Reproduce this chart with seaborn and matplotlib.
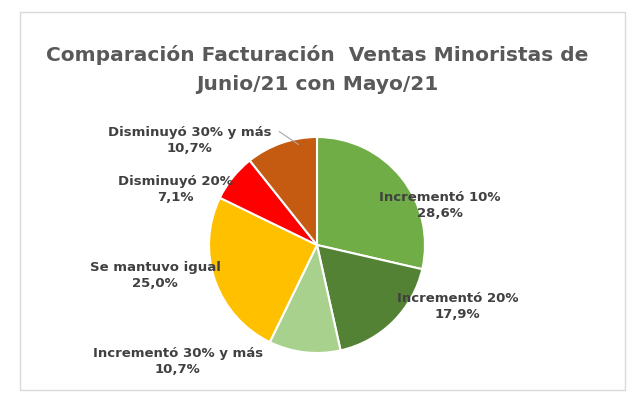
import matplotlib
matplotlib.use("Agg")
import matplotlib.pyplot as plt
import seaborn as sns
from matplotlib.patches import Rectangle

categories = ["Incrementó 10%", "Incrementó 20%", "Incrementó 30% y más",
              "Se mantuvo igual", "Disminuyó 20%", "Disminuyó 30% y más"]
values = [28.6, 17.9, 10.7, 25.0, 7.1, 10.7]
value_labels = ["28,6%", "17,9%", "10,7%", "25,0%", "7,1%", "10,7%"]
colors = ["#70AD47", "#548235", "#A9D18E", "#FFC000", "#FF0000", "#C55A11"]

sns.set_theme(style="white")
palette = sns.color_palette(colors)

fig = plt.figure(figsize=(6.42, 4.17), dpi=100)
fig.patch.set_facecolor("white")
fig.patches.append(Rectangle((20/642, 1-390/417), 605/642, 378/417, transform=fig.transFigure,
                             fill=False, edgecolor="#D9D9D9", linewidth=1))
fig.text(0.494, 1-55/417, "Comparación Facturación  Ventas Minoristas de", ha="center", va="center",
         fontsize=14.5, fontweight="bold", color="#595959")
fig.text(0.494, 1-85/417, "Junio/21 con Mayo/21", ha="center", va="center",
         fontsize=14.5, fontweight="bold", color="#595959")

ax = fig.add_axes([209/642, 64/417, 216/642, 216/417])
ax.pie(values, colors=palette, startangle=90, counterclock=False,
       wedgeprops=dict(edgecolor="white", linewidth=1.5))
ax.set_xlim(-1, 1); ax.set_ylim(-1, 1); ax.set_aspect("equal")

pos = [(1.14, 0.37), (1.30, -0.57), (-1.29, -1.08), (-1.5, -0.28), (-1.31, 0.51), (-1.18, 0.97)]
for c, v, (x, y) in zip(categories, value_labels, pos):
    ax.text(x, y, f"{c}\n{v}", ha="center", va="center", fontsize=9.5, fontweight="bold",
            color="#404040", clip_on=False, linespacing=1.3)
ax.plot([-0.35, -0.17], [1.05, 0.93], color="#A6A6A6", lw=0.8, clip_on=False)

fig.savefig("out.png", dpi=100, facecolor="white")
